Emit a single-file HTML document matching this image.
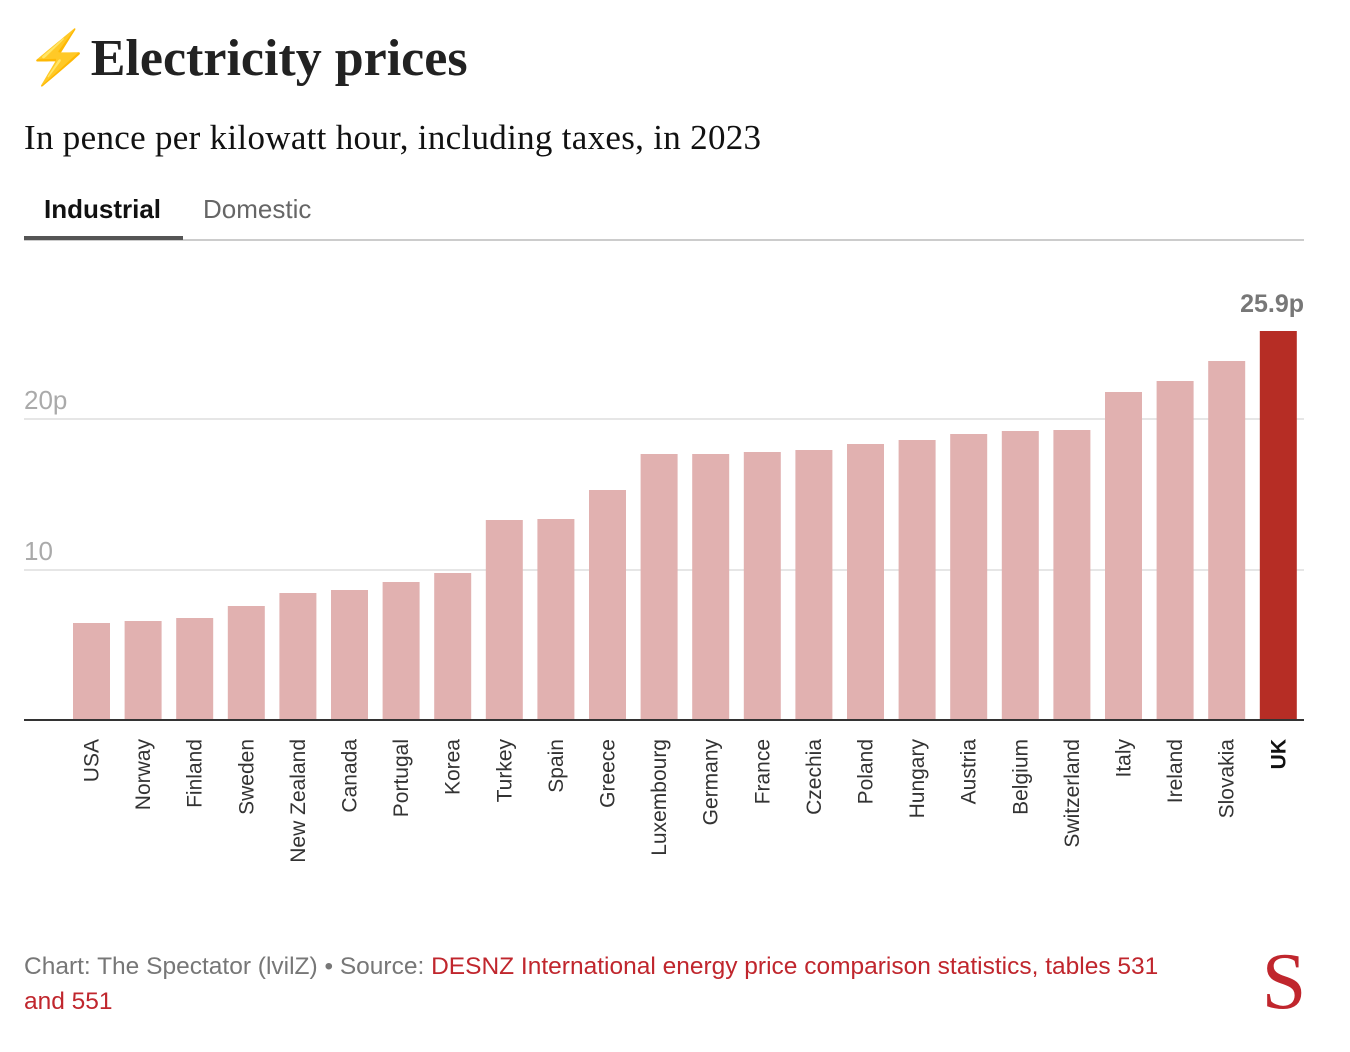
<!DOCTYPE html>
<html><head><meta charset="utf-8"><style>
body{margin:0;background:#fff;width:1350px;height:1052px;overflow:hidden;position:relative;font-family:"Liberation Sans",sans-serif}
.a{position:absolute;white-space:nowrap}
</style></head><body>
<div class="a" style="left:26px;top:27px;font-family:'Liberation Serif',serif;font-weight:bold;font-size:52px;color:#222;"><span style="color:#f2a516;font-weight:normal">⚡</span>Electricity prices</div>
<div class="a" style="left:24px;top:118px;font-family:'Liberation Serif',serif;font-size:35px;letter-spacing:0.3px;color:#111;">In pence per kilowatt hour, including taxes, in 2023</div>
<div class="a" style="left:44px;top:194px;font-size:26px;font-weight:bold;color:#111;">Industrial</div>
<div class="a" style="left:203px;top:194px;font-size:26px;color:#666;">Domestic</div>
<div class="a" style="left:24px;top:239px;width:1280px;height:2px;background:#ccc"></div>
<div class="a" style="left:24px;top:236px;width:159px;height:4px;background:#555"></div>
<svg class="a" style="left:0;top:0" width="1350" height="1052" font-family="Liberation Sans, sans-serif">
<line x1="24" x2="1304" y1="419" y2="419" stroke="#ddd" stroke-width="1.5"/>
<line x1="24" x2="1304" y1="570" y2="570" stroke="#ddd" stroke-width="1.5"/>
<text x="24" y="409" font-size="26" fill="#aaa">20p</text>
<text x="24" y="560" font-size="26" fill="#aaa">10</text>
<g fill="#e1b1b0">
<rect x="73" y="623" width="37" height="97"/>
<rect x="124.6" y="621" width="37" height="99"/>
<rect x="176.2" y="618" width="37" height="102"/>
<rect x="227.8" y="606" width="37" height="114"/>
<rect x="279.4" y="593" width="37" height="127"/>
<rect x="331" y="590" width="37" height="130"/>
<rect x="382.6" y="582" width="37" height="138"/>
<rect x="434.2" y="573" width="37" height="147"/>
<rect x="485.8" y="520" width="37" height="200"/>
<rect x="537.4" y="519" width="37" height="201"/>
<rect x="589" y="490" width="37" height="230"/>
<rect x="640.6" y="454" width="37" height="266"/>
<rect x="692.2" y="454" width="37" height="266"/>
<rect x="743.8" y="452" width="37" height="268"/>
<rect x="795.4" y="450" width="37" height="270"/>
<rect x="847" y="444" width="37" height="276"/>
<rect x="898.6" y="440" width="37" height="280"/>
<rect x="950.2" y="434" width="37" height="286"/>
<rect x="1001.8" y="431" width="37" height="289"/>
<rect x="1053.4" y="430" width="37" height="290"/>
<rect x="1105" y="392" width="37" height="328"/>
<rect x="1156.6" y="381" width="37" height="339"/>
<rect x="1208.2" y="361" width="37" height="359"/>
</g>
<rect x="1259.8" y="331" width="37" height="389" fill="#b62d25"/>
<text x="1304" y="312" font-size="25" font-weight="bold" fill="#777" text-anchor="end">25.9p</text>
<line x1="24" x2="1304" y1="720" y2="720" stroke="#333" stroke-width="2"/>
<g font-size="21" fill="#333" text-anchor="end">
<text transform="translate(98.5,739) rotate(-90)">USA</text>
<text transform="translate(150.1,739) rotate(-90)">Norway</text>
<text transform="translate(201.7,739) rotate(-90)">Finland</text>
<text transform="translate(253.3,739) rotate(-90)">Sweden</text>
<text transform="translate(304.9,739) rotate(-90)">New Zealand</text>
<text transform="translate(356.5,739) rotate(-90)">Canada</text>
<text transform="translate(408.1,739) rotate(-90)">Portugal</text>
<text transform="translate(459.7,739) rotate(-90)">Korea</text>
<text transform="translate(511.3,739) rotate(-90)">Turkey</text>
<text transform="translate(562.9,739) rotate(-90)">Spain</text>
<text transform="translate(614.5,739) rotate(-90)">Greece</text>
<text transform="translate(666.1,739) rotate(-90)">Luxembourg</text>
<text transform="translate(717.7,739) rotate(-90)">Germany</text>
<text transform="translate(769.3,739) rotate(-90)">France</text>
<text transform="translate(820.9,739) rotate(-90)">Czechia</text>
<text transform="translate(872.5,739) rotate(-90)">Poland</text>
<text transform="translate(924.1,739) rotate(-90)">Hungary</text>
<text transform="translate(975.7,739) rotate(-90)">Austria</text>
<text transform="translate(1027.3,739) rotate(-90)">Belgium</text>
<text transform="translate(1078.9,739) rotate(-90)">Switzerland</text>
<text transform="translate(1130.5,739) rotate(-90)">Italy</text>
<text transform="translate(1182.1,739) rotate(-90)">Ireland</text>
<text transform="translate(1233.7,739) rotate(-90)">Slovakia</text>
<text transform="translate(1285.3,739) rotate(-90)" font-weight="bold" fill="#111">UK</text>
</g>
<text x="1284" y="1008" font-family="Liberation Serif, serif" font-size="80" fill="#c0262d" text-anchor="middle">S</text>
</svg>
<div class="a" style="left:24px;top:949px;font-size:24.5px;line-height:35px;color:#777;">Chart: The Spectator (lvilZ) • Source: <span style="color:#c0262d">DESNZ International energy price comparison statistics, tables 531<br>and 551</span></div>
</body></html>
